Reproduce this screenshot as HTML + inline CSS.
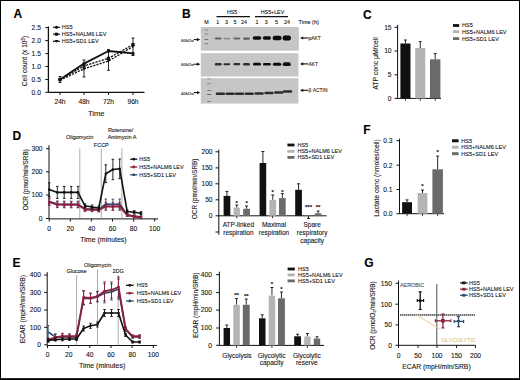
<!DOCTYPE html>
<html><head><meta charset="utf-8"><style>
html,body{margin:0;padding:0;background:#fff;width:520px;height:380px;overflow:hidden;}
svg{display:block;font-family:"Liberation Sans",sans-serif;}
text{stroke:#333;stroke-width:0.1px;paint-order:stroke;}
</style></head><body>
<svg width="520" height="380" viewBox="0 0 520 380">
<rect width="520" height="380" fill="#fff"/>
<text x="13.60" y="17.86" font-size="12.0" text-anchor="start" font-weight="bold" fill="#000" >A</text>
<text x="182.00" y="17.96" font-size="12.0" text-anchor="start" font-weight="bold" fill="#000" >B</text>
<text x="363.00" y="18.86" font-size="12.0" text-anchor="start" font-weight="bold" fill="#000" >C</text>
<text x="12.40" y="139.96" font-size="12.0" text-anchor="start" font-weight="bold" fill="#000" >D</text>
<text x="363.30" y="133.76" font-size="12.0" text-anchor="start" font-weight="bold" fill="#000" >F</text>
<text x="12.40" y="266.66" font-size="12.0" text-anchor="start" font-weight="bold" fill="#000" >E</text>
<text x="364.30" y="266.66" font-size="12.0" text-anchor="start" font-weight="bold" fill="#000" >G</text>
<line x1="48.40" y1="26.50" x2="48.40" y2="92.30" stroke="#111" stroke-width="1.3" />
<line x1="48.40" y1="92.30" x2="144.50" y2="92.30" stroke="#111" stroke-width="1.3" />
<line x1="45.30" y1="27.60" x2="48.40" y2="27.60" stroke="#111" stroke-width="1.0" />
<text x="40.90" y="29.98" font-size="6.7" text-anchor="end" font-weight="normal" fill="#111" >2.5</text>
<line x1="45.30" y1="40.60" x2="48.40" y2="40.60" stroke="#111" stroke-width="1.0" />
<text x="40.90" y="42.98" font-size="6.7" text-anchor="end" font-weight="normal" fill="#111" >2.0</text>
<line x1="45.30" y1="53.60" x2="48.40" y2="53.60" stroke="#111" stroke-width="1.0" />
<text x="40.90" y="55.98" font-size="6.7" text-anchor="end" font-weight="normal" fill="#111" >1.5</text>
<line x1="45.30" y1="66.50" x2="48.40" y2="66.50" stroke="#111" stroke-width="1.0" />
<text x="40.90" y="68.88" font-size="6.7" text-anchor="end" font-weight="normal" fill="#111" >1.0</text>
<line x1="45.30" y1="79.50" x2="48.40" y2="79.50" stroke="#111" stroke-width="1.0" />
<text x="40.90" y="81.88" font-size="6.7" text-anchor="end" font-weight="normal" fill="#111" >0.5</text>
<line x1="45.30" y1="92.30" x2="48.40" y2="92.30" stroke="#111" stroke-width="1.0" />
<text x="40.90" y="94.68" font-size="6.7" text-anchor="end" font-weight="normal" fill="#111" >0.0</text>
<line x1="60.00" y1="92.30" x2="60.00" y2="95.00" stroke="#111" stroke-width="1.0" />
<text x="60.00" y="103.98" font-size="6.7" text-anchor="middle" font-weight="normal" fill="#111" >24h</text>
<line x1="84.00" y1="92.30" x2="84.00" y2="95.00" stroke="#111" stroke-width="1.0" />
<text x="84.00" y="103.98" font-size="6.7" text-anchor="middle" font-weight="normal" fill="#111" >48h</text>
<line x1="108.50" y1="92.30" x2="108.50" y2="95.00" stroke="#111" stroke-width="1.0" />
<text x="108.50" y="103.98" font-size="6.7" text-anchor="middle" font-weight="normal" fill="#111" >72h</text>
<line x1="133.00" y1="92.30" x2="133.00" y2="95.00" stroke="#111" stroke-width="1.0" />
<text x="133.00" y="103.98" font-size="6.7" text-anchor="middle" font-weight="normal" fill="#111" >96h</text>
<text x="96.20" y="115.70" font-size="7.6" text-anchor="middle" font-weight="normal" fill="#111" >Time</text>
<text x="27.34" y="61.00" font-size="6.6" text-anchor="middle" font-weight="normal" fill="#111" transform="rotate(-90 27.34 61.00)" >Cell count (x 10<tspan font-size="4.5" dy="-2.5">5</tspan><tspan dy="2.5">)</tspan></text>
<line x1="84.00" y1="60.00" x2="84.00" y2="77.00" stroke="#111" stroke-width="0.9" />
<line x1="82.50" y1="60.00" x2="85.50" y2="60.00" stroke="#111" stroke-width="0.9" />
<line x1="82.50" y1="77.00" x2="85.50" y2="77.00" stroke="#111" stroke-width="0.9" />
<line x1="108.50" y1="49.60" x2="108.50" y2="70.30" stroke="#111" stroke-width="0.9" />
<line x1="107.00" y1="49.60" x2="110.00" y2="49.60" stroke="#111" stroke-width="0.9" />
<line x1="107.00" y1="70.30" x2="110.00" y2="70.30" stroke="#111" stroke-width="0.9" />
<line x1="133.00" y1="38.00" x2="133.00" y2="55.50" stroke="#111" stroke-width="0.9" />
<line x1="131.50" y1="38.00" x2="134.50" y2="38.00" stroke="#111" stroke-width="0.9" />
<line x1="131.50" y1="55.50" x2="134.50" y2="55.50" stroke="#111" stroke-width="0.9" />
<line x1="60.00" y1="76.50" x2="60.00" y2="82.50" stroke="#111" stroke-width="0.9" />
<line x1="58.50" y1="76.50" x2="61.50" y2="76.50" stroke="#111" stroke-width="0.9" />
<line x1="58.50" y1="82.50" x2="61.50" y2="82.50" stroke="#111" stroke-width="0.9" />
<polyline points="60.00,79.40 84.00,63.60 108.50,51.00 133.00,53.40" fill="none" stroke="#111" stroke-width="1.8" stroke-linejoin="round" />
<polyline points="60.00,79.60 84.00,66.00 108.50,58.30 133.00,44.60" fill="none" stroke="#111" stroke-width="1.3" stroke-linejoin="round" stroke-dasharray="2.2 1.1"/>
<polyline points="60.00,80.20 84.00,68.80 108.50,61.00 133.00,46.50" fill="none" stroke="#111" stroke-width="1.3" stroke-linejoin="round" stroke-dasharray="2.2 1.1"/>
<circle cx="60" cy="79.4" r="1.6" fill="#111"/>
<circle cx="84" cy="63.6" r="1.6" fill="#111"/>
<circle cx="108.5" cy="51.0" r="1.6" fill="#111"/>
<circle cx="133" cy="53.4" r="1.6" fill="#111"/>
<rect x="58.40" y="78.00" width="3.20" height="3.20" fill="#111" />
<rect x="82.40" y="64.40" width="3.20" height="3.20" fill="#111" />
<rect x="106.90" y="56.70" width="3.20" height="3.20" fill="#111" />
<rect x="131.40" y="43.00" width="3.20" height="3.20" fill="#111" />
<polygon points="58.2,78.8 61.8,78.8 60,81.8" fill="#111"/>
<polygon points="82.2,67.39999999999999 85.8,67.39999999999999 84,70.39999999999999" fill="#111"/>
<polygon points="106.7,59.6 110.3,59.6 108.5,62.6" fill="#111"/>
<polygon points="131.2,45.1 134.8,45.1 133,48.1" fill="#111"/>
<line x1="53.00" y1="27.30" x2="60.00" y2="27.30" stroke="#111" stroke-width="1.2" />
<circle cx="56.5" cy="27.3" r="1.5" fill="#111"/>
<text x="61.80" y="29.27" font-size="5.55" text-anchor="start" font-weight="normal" fill="#111" >HS5</text>
<line x1="53.00" y1="34.20" x2="60.00" y2="34.20" stroke="#111" stroke-width="1.2" />
<rect x="55.00" y="32.70" width="3.00" height="3.00" fill="#111" />
<text x="61.80" y="36.17" font-size="5.55" text-anchor="start" font-weight="normal" fill="#111" >HS5+NALM6 LEV</text>
<line x1="53.00" y1="41.30" x2="60.00" y2="41.30" stroke="#111" stroke-width="1.2" />
<polygon points="54.7,40.0 58.3,40.0 56.5,42.8" fill="#111"/>
<text x="61.80" y="43.27" font-size="5.55" text-anchor="start" font-weight="normal" fill="#111" >HS5+SD1 LEV</text>
<text x="232.10" y="13.78" font-size="5.3" text-anchor="middle" font-weight="normal" fill="#111" >HS5</text>
<line x1="216.50" y1="16.60" x2="250.00" y2="16.60" stroke="#111" stroke-width="1.3" />
<text x="272.50" y="14.38" font-size="5.3" text-anchor="middle" font-weight="normal" fill="#111" >HS5+LEV</text>
<line x1="255.00" y1="16.60" x2="288.00" y2="16.60" stroke="#111" stroke-width="1.3" />
<text x="206.50" y="24.08" font-size="5.3" text-anchor="middle" font-weight="normal" fill="#111" >M</text>
<text x="217.80" y="24.08" font-size="5.3" text-anchor="middle" font-weight="normal" fill="#111" >1</text>
<text x="226.40" y="24.08" font-size="5.3" text-anchor="middle" font-weight="normal" fill="#111" >3</text>
<text x="234.90" y="24.08" font-size="5.3" text-anchor="middle" font-weight="normal" fill="#111" >5</text>
<text x="244.00" y="24.08" font-size="5.3" text-anchor="middle" font-weight="normal" fill="#111" >24</text>
<text x="256.90" y="24.08" font-size="5.3" text-anchor="middle" font-weight="normal" fill="#111" >1</text>
<text x="266.20" y="24.08" font-size="5.3" text-anchor="middle" font-weight="normal" fill="#111" >3</text>
<text x="276.50" y="24.08" font-size="5.3" text-anchor="middle" font-weight="normal" fill="#111" >5</text>
<text x="286.90" y="24.08" font-size="5.3" text-anchor="middle" font-weight="normal" fill="#111" >24</text>
<text x="298.50" y="24.15" font-size="5.5" text-anchor="start" font-weight="normal" fill="#111" >Time (h)</text>
<rect x="200.80" y="27.00" width="98.00" height="23.70" fill="#c6c6c6" />
<rect x="200.80" y="53.20" width="97.60" height="23.30" fill="#c6c6c6" />
<rect x="200.80" y="78.20" width="97.60" height="25.40" fill="#c6c6c6" />
<defs><filter id="bl" x="-20%" y="-50%" width="140%" height="200%"><feGaussianBlur stdDeviation="0.45"/></filter></defs>
<g filter="url(#bl)">
<rect x="204.30" y="29.55" width="4.00" height="0.90" rx="0.45" fill="#888"/>
<rect x="204.30" y="33.55" width="4.00" height="0.90" rx="0.45" fill="#888"/>
<rect x="204.30" y="39.15" width="4.00" height="0.90" rx="0.45" fill="#555"/>
<rect x="204.30" y="43.35" width="4.00" height="0.90" rx="0.45" fill="#777"/>
<rect x="207.00" y="78.45" width="4.40" height="0.90" rx="0.45" fill="#888"/>
<rect x="207.00" y="83.25" width="4.40" height="0.90" rx="0.45" fill="#888"/>
<rect x="207.00" y="89.95" width="4.40" height="0.90" rx="0.45" fill="#666"/>
<rect x="207.00" y="93.95" width="4.40" height="0.90" rx="0.45" fill="#444"/>
<rect x="207.00" y="101.15" width="4.40" height="0.90" rx="0.45" fill="#666"/>
<rect x="214.80" y="37.60" width="6.80" height="2.00" rx="1.00" fill="#606060"/>
<rect x="223.40" y="37.80" width="6.80" height="1.60" rx="0.80" fill="#8c8c8c"/>
<rect x="233.40" y="37.60" width="6.80" height="2.00" rx="1.00" fill="#6a6a6a"/>
<rect x="243.10" y="37.50" width="6.80" height="2.20" rx="1.10" fill="#5c5c5c"/>
<rect x="252.70" y="36.20" width="8.60" height="3.60" rx="1.80" fill="#0a0a0a"/>
<rect x="262.80" y="36.20" width="8.20" height="3.60" rx="1.80" fill="#0a0a0a"/>
<rect x="272.70" y="35.85" width="8.80" height="4.30" rx="2.00" fill="#0a0a0a"/>
<rect x="282.70" y="35.60" width="8.20" height="4.80" rx="2.00" fill="#0a0a0a"/>
<rect x="214.80" y="63.00" width="6.80" height="2.40" rx="1.20" fill="#2e2e2e"/>
<rect x="223.40" y="63.20" width="6.80" height="2.00" rx="1.00" fill="#2e2e2e"/>
<rect x="233.40" y="63.05" width="6.80" height="2.30" rx="1.15" fill="#2e2e2e"/>
<rect x="243.10" y="63.00" width="6.80" height="2.40" rx="1.20" fill="#2e2e2e"/>
<rect x="253.00" y="62.80" width="8.00" height="2.80" rx="1.40" fill="#111"/>
<rect x="263.00" y="62.90" width="7.80" height="2.60" rx="1.30" fill="#111"/>
<rect x="272.90" y="62.70" width="8.40" height="3.00" rx="1.50" fill="#111"/>
<rect x="282.80" y="62.30" width="8.00" height="3.80" rx="1.90" fill="#111"/>
<rect x="215.70" y="92.45" width="9.40" height="2.50" rx="1.25" fill="#2c2c2c"/>
<rect x="225.40" y="92.45" width="9.40" height="2.50" rx="1.25" fill="#2c2c2c"/>
<rect x="234.80" y="92.45" width="9.40" height="2.50" rx="1.25" fill="#2c2c2c"/>
<rect x="244.50" y="92.45" width="9.40" height="2.50" rx="1.25" fill="#2c2c2c"/>
<rect x="254.40" y="92.25" width="9.40" height="2.50" rx="1.25" fill="#2c2c2c"/>
<rect x="264.30" y="91.85" width="9.40" height="2.50" rx="1.25" fill="#2c2c2c"/>
<rect x="274.00" y="91.15" width="9.40" height="2.50" rx="1.25" fill="#2c2c2c"/>
<rect x="282.90" y="90.35" width="9.40" height="2.50" rx="1.25" fill="#2c2c2c"/>
</g>
<text x="181.00" y="41.56" font-size="4.4" text-anchor="start" font-weight="normal" fill="#222" >60kDa</text>
<line x1="193.80" y1="39.60" x2="198.60" y2="39.60" stroke="#111" stroke-width="1.1" />
<polygon points="200.2,39.6 197.0,38.0 197.0,41.2" fill="#111"/>
<text x="181.00" y="66.46" font-size="4.4" text-anchor="start" font-weight="normal" fill="#222" >60kDa</text>
<line x1="193.80" y1="64.20" x2="198.60" y2="64.20" stroke="#111" stroke-width="1.1" />
<polygon points="200.2,64.2 197.0,62.6 197.0,65.8" fill="#111"/>
<text x="181.00" y="94.56" font-size="4.4" text-anchor="start" font-weight="normal" fill="#222" >40kDa</text>
<line x1="193.80" y1="92.60" x2="198.60" y2="92.60" stroke="#111" stroke-width="1.1" />
<polygon points="200.2,92.6 197.0,91.0 197.0,94.19999999999999" fill="#111"/>
<line x1="302.00" y1="38.00" x2="308.30" y2="38.00" stroke="#111" stroke-width="1.1" />
<polygon points="300.0,38.0 303.2,36.4 303.2,39.6" fill="#111"/>
<text x="308.60" y="39.74" font-size="4.9" text-anchor="start" font-weight="normal" fill="#222" >pAKT</text>
<line x1="302.00" y1="63.90" x2="308.30" y2="63.90" stroke="#111" stroke-width="1.1" />
<polygon points="300.0,63.9 303.2,62.3 303.2,65.5" fill="#111"/>
<text x="308.60" y="65.64" font-size="4.9" text-anchor="start" font-weight="normal" fill="#222" >AKT</text>
<line x1="302.00" y1="90.30" x2="308.30" y2="90.30" stroke="#111" stroke-width="1.1" />
<polygon points="300.0,90.3 303.2,88.7 303.2,91.89999999999999" fill="#111"/>
<text x="308.60" y="92.04" font-size="4.9" text-anchor="start" font-weight="normal" fill="#222" >β ACTIN</text>
<line x1="397.60" y1="25.00" x2="397.60" y2="98.40" stroke="#111" stroke-width="1.0" />
<line x1="397.60" y1="98.40" x2="441.00" y2="98.40" stroke="#111" stroke-width="1.0" />
<line x1="394.60" y1="27.40" x2="397.60" y2="27.40" stroke="#111" stroke-width="1.0" />
<text x="391.60" y="29.78" font-size="6.7" text-anchor="end" font-weight="normal" fill="#111" >15</text>
<line x1="394.60" y1="51.00" x2="397.60" y2="51.00" stroke="#111" stroke-width="1.0" />
<text x="391.60" y="53.38" font-size="6.7" text-anchor="end" font-weight="normal" fill="#111" >10</text>
<line x1="394.60" y1="74.80" x2="397.60" y2="74.80" stroke="#111" stroke-width="1.0" />
<text x="391.60" y="77.18" font-size="6.7" text-anchor="end" font-weight="normal" fill="#111" >5</text>
<line x1="394.60" y1="98.40" x2="397.60" y2="98.40" stroke="#111" stroke-width="1.0" />
<text x="391.60" y="100.78" font-size="6.7" text-anchor="end" font-weight="normal" fill="#111" >0</text>
<line x1="405.45" y1="40.00" x2="405.45" y2="43.50" stroke="#111" stroke-width="0.9" />
<line x1="403.95" y1="40.00" x2="406.95" y2="40.00" stroke="#111" stroke-width="0.9" />
<rect x="400.40" y="43.50" width="10.10" height="54.90" fill="#111" />
<line x1="405.45" y1="98.40" x2="405.45" y2="100.80" stroke="#111" stroke-width="0.8" />
<line x1="420.25" y1="41.60" x2="420.25" y2="48.00" stroke="#111" stroke-width="0.9" />
<line x1="418.75" y1="41.60" x2="421.75" y2="41.60" stroke="#111" stroke-width="0.9" />
<rect x="415.20" y="48.00" width="10.10" height="50.40" fill="#b4b4b4" />
<line x1="420.25" y1="98.40" x2="420.25" y2="100.80" stroke="#111" stroke-width="0.8" />
<line x1="435.20" y1="53.60" x2="435.20" y2="59.30" stroke="#111" stroke-width="0.9" />
<line x1="433.70" y1="53.60" x2="436.70" y2="53.60" stroke="#111" stroke-width="0.9" />
<rect x="430.00" y="59.30" width="10.40" height="39.10" fill="#6a6a6a" />
<line x1="435.20" y1="98.40" x2="435.20" y2="100.80" stroke="#111" stroke-width="0.8" />
<text x="378.11" y="63.50" font-size="6.8" text-anchor="middle" font-weight="normal" fill="#111" transform="rotate(-90 378.11 63.50)" >ATP conc μM/cell</text>
<rect x="453.00" y="24.10" width="6.20" height="2.80" fill="#111" />
<text x="462.00" y="27.47" font-size="5.55" text-anchor="start" font-weight="normal" fill="#111" >HS5</text>
<rect x="453.00" y="30.30" width="6.20" height="2.80" fill="#b4b4b4" />
<text x="462.00" y="33.67" font-size="5.55" text-anchor="start" font-weight="normal" fill="#111" >HS5+NALM6 LEV</text>
<rect x="453.00" y="37.20" width="6.20" height="2.80" fill="#6a6a6a" />
<text x="462.00" y="40.57" font-size="5.55" text-anchor="start" font-weight="normal" fill="#111" >HS5+SD1 LEV</text>
<line x1="49.00" y1="145.20" x2="49.00" y2="218.90" stroke="#111" stroke-width="1.0" />
<line x1="49.00" y1="218.90" x2="158.00" y2="218.90" stroke="#111" stroke-width="1.0" />
<line x1="46.00" y1="148.70" x2="49.00" y2="148.70" stroke="#111" stroke-width="1.0" />
<text x="42.60" y="151.08" font-size="6.7" text-anchor="end" font-weight="normal" fill="#111" >300</text>
<line x1="46.00" y1="171.80" x2="49.00" y2="171.80" stroke="#111" stroke-width="1.0" />
<text x="42.60" y="174.18" font-size="6.7" text-anchor="end" font-weight="normal" fill="#111" >200</text>
<line x1="46.00" y1="195.00" x2="49.00" y2="195.00" stroke="#111" stroke-width="1.0" />
<text x="42.60" y="197.38" font-size="6.7" text-anchor="end" font-weight="normal" fill="#111" >100</text>
<line x1="46.00" y1="218.50" x2="49.00" y2="218.50" stroke="#111" stroke-width="1.0" />
<text x="42.60" y="220.88" font-size="6.7" text-anchor="end" font-weight="normal" fill="#111" >0</text>
<line x1="49.20" y1="218.90" x2="49.20" y2="221.50" stroke="#111" stroke-width="1.0" />
<text x="49.20" y="231.18" font-size="6.7" text-anchor="middle" font-weight="normal" fill="#111" >0</text>
<line x1="70.30" y1="218.90" x2="70.30" y2="221.50" stroke="#111" stroke-width="1.0" />
<text x="70.30" y="231.18" font-size="6.7" text-anchor="middle" font-weight="normal" fill="#111" >20</text>
<line x1="91.40" y1="218.90" x2="91.40" y2="221.50" stroke="#111" stroke-width="1.0" />
<text x="91.40" y="231.18" font-size="6.7" text-anchor="middle" font-weight="normal" fill="#111" >40</text>
<line x1="112.50" y1="218.90" x2="112.50" y2="221.50" stroke="#111" stroke-width="1.0" />
<text x="112.50" y="231.18" font-size="6.7" text-anchor="middle" font-weight="normal" fill="#111" >60</text>
<line x1="133.60" y1="218.90" x2="133.60" y2="221.50" stroke="#111" stroke-width="1.0" />
<text x="133.60" y="231.18" font-size="6.7" text-anchor="middle" font-weight="normal" fill="#111" >80</text>
<line x1="154.70" y1="218.90" x2="154.70" y2="221.50" stroke="#111" stroke-width="1.0" />
<text x="154.70" y="231.18" font-size="6.7" text-anchor="middle" font-weight="normal" fill="#111" >100</text>
<text x="103.50" y="241.69" font-size="7.0" text-anchor="middle" font-weight="normal" fill="#111" >Time (minutes)</text>
<text x="27.57" y="179.70" font-size="6.4" text-anchor="middle" font-weight="normal" fill="#111" transform="rotate(-90 27.57 179.70)" >OCR (pmol/min/SRB)</text>
<line x1="79.80" y1="148.50" x2="79.80" y2="218.90" stroke="#888" stroke-width="0.7" />
<line x1="101.30" y1="148.50" x2="101.30" y2="218.90" stroke="#888" stroke-width="0.7" />
<line x1="121.90" y1="148.50" x2="121.90" y2="218.90" stroke="#888" stroke-width="0.7" />
<text x="79.60" y="138.95" font-size="5.5" text-anchor="middle" font-weight="normal" fill="#111" >Oligomycin</text>
<text x="101.30" y="147.05" font-size="5.5" text-anchor="middle" font-weight="normal" fill="#111" >FCCP</text>
<text x="120.60" y="132.15" font-size="5.5" text-anchor="middle" font-weight="normal" fill="#111" >Rotenone/</text>
<text x="122.00" y="138.85" font-size="5.5" text-anchor="middle" font-weight="normal" fill="#111" >Antimycin A</text>
<line x1="49.20" y1="197.90" x2="49.20" y2="204.90" stroke="#2d4a70" stroke-width="0.9" />
<line x1="47.90" y1="197.90" x2="50.50" y2="197.90" stroke="#2d4a70" stroke-width="0.9" />
<line x1="47.90" y1="204.90" x2="50.50" y2="204.90" stroke="#2d4a70" stroke-width="0.9" />
<line x1="57.30" y1="201.00" x2="57.30" y2="207.00" stroke="#2d4a70" stroke-width="0.9" />
<line x1="56.00" y1="201.00" x2="58.60" y2="201.00" stroke="#2d4a70" stroke-width="0.9" />
<line x1="56.00" y1="207.00" x2="58.60" y2="207.00" stroke="#2d4a70" stroke-width="0.9" />
<line x1="64.20" y1="201.20" x2="64.20" y2="207.20" stroke="#2d4a70" stroke-width="0.9" />
<line x1="62.90" y1="201.20" x2="65.50" y2="201.20" stroke="#2d4a70" stroke-width="0.9" />
<line x1="62.90" y1="207.20" x2="65.50" y2="207.20" stroke="#2d4a70" stroke-width="0.9" />
<line x1="71.20" y1="201.20" x2="71.20" y2="207.20" stroke="#2d4a70" stroke-width="0.9" />
<line x1="69.90" y1="201.20" x2="72.50" y2="201.20" stroke="#2d4a70" stroke-width="0.9" />
<line x1="69.90" y1="207.20" x2="72.50" y2="207.20" stroke="#2d4a70" stroke-width="0.9" />
<line x1="78.00" y1="201.20" x2="78.00" y2="207.20" stroke="#2d4a70" stroke-width="0.9" />
<line x1="76.70" y1="201.20" x2="79.30" y2="201.20" stroke="#2d4a70" stroke-width="0.9" />
<line x1="76.70" y1="207.20" x2="79.30" y2="207.20" stroke="#2d4a70" stroke-width="0.9" />
<line x1="85.00" y1="206.90" x2="85.00" y2="210.90" stroke="#2d4a70" stroke-width="0.9" />
<line x1="83.70" y1="206.90" x2="86.30" y2="206.90" stroke="#2d4a70" stroke-width="0.9" />
<line x1="83.70" y1="210.90" x2="86.30" y2="210.90" stroke="#2d4a70" stroke-width="0.9" />
<line x1="92.00" y1="207.10" x2="92.00" y2="211.10" stroke="#2d4a70" stroke-width="0.9" />
<line x1="90.70" y1="207.10" x2="93.30" y2="207.10" stroke="#2d4a70" stroke-width="0.9" />
<line x1="90.70" y1="211.10" x2="93.30" y2="211.10" stroke="#2d4a70" stroke-width="0.9" />
<line x1="98.80" y1="207.40" x2="98.80" y2="211.40" stroke="#2d4a70" stroke-width="0.9" />
<line x1="97.50" y1="207.40" x2="100.10" y2="207.40" stroke="#2d4a70" stroke-width="0.9" />
<line x1="97.50" y1="211.40" x2="100.10" y2="211.40" stroke="#2d4a70" stroke-width="0.9" />
<line x1="105.80" y1="199.00" x2="105.80" y2="209.00" stroke="#2d4a70" stroke-width="0.9" />
<line x1="104.50" y1="199.00" x2="107.10" y2="199.00" stroke="#2d4a70" stroke-width="0.9" />
<line x1="104.50" y1="209.00" x2="107.10" y2="209.00" stroke="#2d4a70" stroke-width="0.9" />
<line x1="112.90" y1="199.20" x2="112.90" y2="209.20" stroke="#2d4a70" stroke-width="0.9" />
<line x1="111.60" y1="199.20" x2="114.20" y2="199.20" stroke="#2d4a70" stroke-width="0.9" />
<line x1="111.60" y1="209.20" x2="114.20" y2="209.20" stroke="#2d4a70" stroke-width="0.9" />
<line x1="119.70" y1="199.00" x2="119.70" y2="209.00" stroke="#2d4a70" stroke-width="0.9" />
<line x1="118.40" y1="199.00" x2="121.00" y2="199.00" stroke="#2d4a70" stroke-width="0.9" />
<line x1="118.40" y1="209.00" x2="121.00" y2="209.00" stroke="#2d4a70" stroke-width="0.9" />
<line x1="127.20" y1="213.60" x2="127.20" y2="216.00" stroke="#2d4a70" stroke-width="0.9" />
<line x1="125.90" y1="213.60" x2="128.50" y2="213.60" stroke="#2d4a70" stroke-width="0.9" />
<line x1="125.90" y1="216.00" x2="128.50" y2="216.00" stroke="#2d4a70" stroke-width="0.9" />
<line x1="134.20" y1="214.90" x2="134.20" y2="217.30" stroke="#2d4a70" stroke-width="0.9" />
<line x1="132.90" y1="214.90" x2="135.50" y2="214.90" stroke="#2d4a70" stroke-width="0.9" />
<line x1="132.90" y1="217.30" x2="135.50" y2="217.30" stroke="#2d4a70" stroke-width="0.9" />
<line x1="141.00" y1="215.80" x2="141.00" y2="218.20" stroke="#2d4a70" stroke-width="0.9" />
<line x1="139.70" y1="215.80" x2="142.30" y2="215.80" stroke="#2d4a70" stroke-width="0.9" />
<line x1="139.70" y1="218.20" x2="142.30" y2="218.20" stroke="#2d4a70" stroke-width="0.9" />
<polyline points="49.20,201.40 57.30,204.00 64.20,204.20 71.20,204.20 78.00,204.20 85.00,208.90 92.00,209.10 98.80,209.40 105.80,204.00 112.90,204.20 119.70,204.00 127.20,214.80 134.20,216.10 141.00,217.00" fill="none" stroke="#2d4a70" stroke-width="1.6" stroke-linejoin="round" />
<line x1="49.20" y1="198.50" x2="49.20" y2="205.50" stroke="#8c1f40" stroke-width="0.9" />
<line x1="47.90" y1="198.50" x2="50.50" y2="198.50" stroke="#8c1f40" stroke-width="0.9" />
<line x1="47.90" y1="205.50" x2="50.50" y2="205.50" stroke="#8c1f40" stroke-width="0.9" />
<line x1="57.30" y1="201.60" x2="57.30" y2="207.60" stroke="#8c1f40" stroke-width="0.9" />
<line x1="56.00" y1="201.60" x2="58.60" y2="201.60" stroke="#8c1f40" stroke-width="0.9" />
<line x1="56.00" y1="207.60" x2="58.60" y2="207.60" stroke="#8c1f40" stroke-width="0.9" />
<line x1="64.20" y1="201.80" x2="64.20" y2="207.80" stroke="#8c1f40" stroke-width="0.9" />
<line x1="62.90" y1="201.80" x2="65.50" y2="201.80" stroke="#8c1f40" stroke-width="0.9" />
<line x1="62.90" y1="207.80" x2="65.50" y2="207.80" stroke="#8c1f40" stroke-width="0.9" />
<line x1="71.20" y1="201.80" x2="71.20" y2="207.80" stroke="#8c1f40" stroke-width="0.9" />
<line x1="69.90" y1="201.80" x2="72.50" y2="201.80" stroke="#8c1f40" stroke-width="0.9" />
<line x1="69.90" y1="207.80" x2="72.50" y2="207.80" stroke="#8c1f40" stroke-width="0.9" />
<line x1="78.00" y1="201.80" x2="78.00" y2="207.80" stroke="#8c1f40" stroke-width="0.9" />
<line x1="76.70" y1="201.80" x2="79.30" y2="201.80" stroke="#8c1f40" stroke-width="0.9" />
<line x1="76.70" y1="207.80" x2="79.30" y2="207.80" stroke="#8c1f40" stroke-width="0.9" />
<line x1="85.00" y1="207.50" x2="85.00" y2="211.50" stroke="#8c1f40" stroke-width="0.9" />
<line x1="83.70" y1="207.50" x2="86.30" y2="207.50" stroke="#8c1f40" stroke-width="0.9" />
<line x1="83.70" y1="211.50" x2="86.30" y2="211.50" stroke="#8c1f40" stroke-width="0.9" />
<line x1="92.00" y1="207.70" x2="92.00" y2="211.70" stroke="#8c1f40" stroke-width="0.9" />
<line x1="90.70" y1="207.70" x2="93.30" y2="207.70" stroke="#8c1f40" stroke-width="0.9" />
<line x1="90.70" y1="211.70" x2="93.30" y2="211.70" stroke="#8c1f40" stroke-width="0.9" />
<line x1="98.80" y1="208.00" x2="98.80" y2="212.00" stroke="#8c1f40" stroke-width="0.9" />
<line x1="97.50" y1="208.00" x2="100.10" y2="208.00" stroke="#8c1f40" stroke-width="0.9" />
<line x1="97.50" y1="212.00" x2="100.10" y2="212.00" stroke="#8c1f40" stroke-width="0.9" />
<line x1="105.80" y1="202.30" x2="105.80" y2="210.30" stroke="#8c1f40" stroke-width="0.9" />
<line x1="104.50" y1="202.30" x2="107.10" y2="202.30" stroke="#8c1f40" stroke-width="0.9" />
<line x1="104.50" y1="210.30" x2="107.10" y2="210.30" stroke="#8c1f40" stroke-width="0.9" />
<line x1="112.90" y1="202.50" x2="112.90" y2="210.50" stroke="#8c1f40" stroke-width="0.9" />
<line x1="111.60" y1="202.50" x2="114.20" y2="202.50" stroke="#8c1f40" stroke-width="0.9" />
<line x1="111.60" y1="210.50" x2="114.20" y2="210.50" stroke="#8c1f40" stroke-width="0.9" />
<line x1="119.70" y1="202.30" x2="119.70" y2="210.30" stroke="#8c1f40" stroke-width="0.9" />
<line x1="118.40" y1="202.30" x2="121.00" y2="202.30" stroke="#8c1f40" stroke-width="0.9" />
<line x1="118.40" y1="210.30" x2="121.00" y2="210.30" stroke="#8c1f40" stroke-width="0.9" />
<line x1="127.20" y1="214.00" x2="127.20" y2="216.40" stroke="#8c1f40" stroke-width="0.9" />
<line x1="125.90" y1="214.00" x2="128.50" y2="214.00" stroke="#8c1f40" stroke-width="0.9" />
<line x1="125.90" y1="216.40" x2="128.50" y2="216.40" stroke="#8c1f40" stroke-width="0.9" />
<line x1="134.20" y1="215.30" x2="134.20" y2="217.70" stroke="#8c1f40" stroke-width="0.9" />
<line x1="132.90" y1="215.30" x2="135.50" y2="215.30" stroke="#8c1f40" stroke-width="0.9" />
<line x1="132.90" y1="217.70" x2="135.50" y2="217.70" stroke="#8c1f40" stroke-width="0.9" />
<line x1="141.00" y1="216.20" x2="141.00" y2="218.60" stroke="#8c1f40" stroke-width="0.9" />
<line x1="139.70" y1="216.20" x2="142.30" y2="216.20" stroke="#8c1f40" stroke-width="0.9" />
<line x1="139.70" y1="218.60" x2="142.30" y2="218.60" stroke="#8c1f40" stroke-width="0.9" />
<polyline points="49.20,202.00 57.30,204.60 64.20,204.80 71.20,204.80 78.00,204.80 85.00,209.50 92.00,209.70 98.80,210.00 105.80,206.30 112.90,206.50 119.70,206.30 127.20,215.20 134.20,216.50 141.00,217.40" fill="none" stroke="#8c1f40" stroke-width="1.9" stroke-linejoin="round" />
<rect x="48.00" y="200.80" width="2.40" height="2.40" fill="#8c1f40" />
<rect x="56.10" y="203.40" width="2.40" height="2.40" fill="#8c1f40" />
<rect x="63.00" y="203.60" width="2.40" height="2.40" fill="#8c1f40" />
<rect x="70.00" y="203.60" width="2.40" height="2.40" fill="#8c1f40" />
<rect x="76.80" y="203.60" width="2.40" height="2.40" fill="#8c1f40" />
<rect x="83.80" y="208.30" width="2.40" height="2.40" fill="#8c1f40" />
<rect x="90.80" y="208.50" width="2.40" height="2.40" fill="#8c1f40" />
<rect x="97.60" y="208.80" width="2.40" height="2.40" fill="#8c1f40" />
<rect x="104.60" y="205.10" width="2.40" height="2.40" fill="#8c1f40" />
<rect x="111.70" y="205.30" width="2.40" height="2.40" fill="#8c1f40" />
<rect x="118.50" y="205.10" width="2.40" height="2.40" fill="#8c1f40" />
<rect x="126.00" y="214.00" width="2.40" height="2.40" fill="#8c1f40" />
<rect x="133.00" y="215.30" width="2.40" height="2.40" fill="#8c1f40" />
<rect x="139.80" y="216.20" width="2.40" height="2.40" fill="#8c1f40" />
<line x1="49.20" y1="182.80" x2="49.20" y2="196.40" stroke="#111" stroke-width="0.9" />
<line x1="47.90" y1="182.80" x2="50.50" y2="182.80" stroke="#111" stroke-width="0.9" />
<line x1="47.90" y1="196.40" x2="50.50" y2="196.40" stroke="#111" stroke-width="0.9" />
<line x1="57.30" y1="186.40" x2="57.30" y2="198.40" stroke="#111" stroke-width="0.9" />
<line x1="56.00" y1="186.40" x2="58.60" y2="186.40" stroke="#111" stroke-width="0.9" />
<line x1="56.00" y1="198.40" x2="58.60" y2="198.40" stroke="#111" stroke-width="0.9" />
<line x1="64.20" y1="186.40" x2="64.20" y2="198.40" stroke="#111" stroke-width="0.9" />
<line x1="62.90" y1="186.40" x2="65.50" y2="186.40" stroke="#111" stroke-width="0.9" />
<line x1="62.90" y1="198.40" x2="65.50" y2="198.40" stroke="#111" stroke-width="0.9" />
<line x1="71.20" y1="186.40" x2="71.20" y2="198.40" stroke="#111" stroke-width="0.9" />
<line x1="69.90" y1="186.40" x2="72.50" y2="186.40" stroke="#111" stroke-width="0.9" />
<line x1="69.90" y1="198.40" x2="72.50" y2="198.40" stroke="#111" stroke-width="0.9" />
<line x1="78.00" y1="186.40" x2="78.00" y2="198.40" stroke="#111" stroke-width="0.9" />
<line x1="76.70" y1="186.40" x2="79.30" y2="186.40" stroke="#111" stroke-width="0.9" />
<line x1="76.70" y1="198.40" x2="79.30" y2="198.40" stroke="#111" stroke-width="0.9" />
<line x1="85.00" y1="203.80" x2="85.00" y2="207.80" stroke="#111" stroke-width="0.9" />
<line x1="83.70" y1="203.80" x2="86.30" y2="203.80" stroke="#111" stroke-width="0.9" />
<line x1="83.70" y1="207.80" x2="86.30" y2="207.80" stroke="#111" stroke-width="0.9" />
<line x1="92.00" y1="205.00" x2="92.00" y2="209.00" stroke="#111" stroke-width="0.9" />
<line x1="90.70" y1="205.00" x2="93.30" y2="205.00" stroke="#111" stroke-width="0.9" />
<line x1="90.70" y1="209.00" x2="93.30" y2="209.00" stroke="#111" stroke-width="0.9" />
<line x1="98.80" y1="206.00" x2="98.80" y2="210.00" stroke="#111" stroke-width="0.9" />
<line x1="97.50" y1="206.00" x2="100.10" y2="206.00" stroke="#111" stroke-width="0.9" />
<line x1="97.50" y1="210.00" x2="100.10" y2="210.00" stroke="#111" stroke-width="0.9" />
<line x1="105.80" y1="164.80" x2="105.80" y2="182.60" stroke="#111" stroke-width="0.9" />
<line x1="104.50" y1="164.80" x2="107.10" y2="164.80" stroke="#111" stroke-width="0.9" />
<line x1="104.50" y1="182.60" x2="107.10" y2="182.60" stroke="#111" stroke-width="0.9" />
<line x1="112.90" y1="159.30" x2="112.90" y2="179.70" stroke="#111" stroke-width="0.9" />
<line x1="111.60" y1="159.30" x2="114.20" y2="159.30" stroke="#111" stroke-width="0.9" />
<line x1="111.60" y1="179.70" x2="114.20" y2="179.70" stroke="#111" stroke-width="0.9" />
<line x1="119.70" y1="159.00" x2="119.70" y2="178.60" stroke="#111" stroke-width="0.9" />
<line x1="118.40" y1="159.00" x2="121.00" y2="159.00" stroke="#111" stroke-width="0.9" />
<line x1="118.40" y1="178.60" x2="121.00" y2="178.60" stroke="#111" stroke-width="0.9" />
<line x1="127.20" y1="210.00" x2="127.20" y2="213.00" stroke="#111" stroke-width="0.9" />
<line x1="125.90" y1="210.00" x2="128.50" y2="210.00" stroke="#111" stroke-width="0.9" />
<line x1="125.90" y1="213.00" x2="128.50" y2="213.00" stroke="#111" stroke-width="0.9" />
<line x1="134.20" y1="210.70" x2="134.20" y2="213.70" stroke="#111" stroke-width="0.9" />
<line x1="132.90" y1="210.70" x2="135.50" y2="210.70" stroke="#111" stroke-width="0.9" />
<line x1="132.90" y1="213.70" x2="135.50" y2="213.70" stroke="#111" stroke-width="0.9" />
<line x1="141.00" y1="211.70" x2="141.00" y2="214.70" stroke="#111" stroke-width="0.9" />
<line x1="139.70" y1="211.70" x2="142.30" y2="211.70" stroke="#111" stroke-width="0.9" />
<line x1="139.70" y1="214.70" x2="142.30" y2="214.70" stroke="#111" stroke-width="0.9" />
<polyline points="49.20,189.60 57.30,192.40 64.20,192.40 71.20,192.40 78.00,192.40 85.00,205.80 92.00,207.00 98.80,208.00 105.80,173.70 112.90,169.50 119.70,168.80 127.20,211.50 134.20,212.20 141.00,213.20" fill="none" stroke="#111" stroke-width="1.6" stroke-linejoin="round" />
<circle cx="49.2" cy="189.6" r="1.3" fill="#111"/>
<circle cx="57.3" cy="192.4" r="1.3" fill="#111"/>
<circle cx="64.2" cy="192.4" r="1.3" fill="#111"/>
<circle cx="71.2" cy="192.4" r="1.3" fill="#111"/>
<circle cx="78.0" cy="192.4" r="1.3" fill="#111"/>
<circle cx="85.0" cy="205.8" r="1.3" fill="#111"/>
<circle cx="92.0" cy="207.0" r="1.3" fill="#111"/>
<circle cx="98.8" cy="208.0" r="1.3" fill="#111"/>
<circle cx="105.8" cy="173.7" r="1.3" fill="#111"/>
<circle cx="112.9" cy="169.5" r="1.3" fill="#111"/>
<circle cx="119.7" cy="168.8" r="1.3" fill="#111"/>
<circle cx="127.2" cy="211.5" r="1.3" fill="#111"/>
<circle cx="134.2" cy="212.2" r="1.3" fill="#111"/>
<circle cx="141.0" cy="213.2" r="1.3" fill="#111"/>
<line x1="130.20" y1="159.20" x2="137.30" y2="159.20" stroke="#111" stroke-width="1.3" />
<circle cx="133.7" cy="159.2" r="1.4" fill="#111"/>
<text x="139.20" y="161.17" font-size="5.55" text-anchor="start" font-weight="normal" fill="#111" >HS5</text>
<line x1="130.20" y1="167.00" x2="137.30" y2="167.00" stroke="#8c1f40" stroke-width="1.3" />
<circle cx="133.7" cy="167.0" r="1.4" fill="#8c1f40"/>
<text x="139.20" y="168.97" font-size="5.55" text-anchor="start" font-weight="normal" fill="#111" >HS5+NALM6 LEV</text>
<line x1="130.20" y1="174.80" x2="137.30" y2="174.80" stroke="#2d4a70" stroke-width="1.3" />
<circle cx="133.7" cy="174.8" r="1.4" fill="#2d4a70"/>
<text x="139.20" y="176.77" font-size="5.55" text-anchor="start" font-weight="normal" fill="#111" >HS5+SD1 LEV</text>
<line x1="218.80" y1="149.60" x2="218.80" y2="234.70" stroke="#111" stroke-width="1.0" />
<line x1="218.80" y1="215.80" x2="326.50" y2="215.80" stroke="#111" stroke-width="1.0" />
<line x1="215.50" y1="151.80" x2="218.80" y2="151.80" stroke="#111" stroke-width="1.0" />
<text x="212.60" y="154.18" font-size="6.7" text-anchor="end" font-weight="normal" fill="#111" >200</text>
<line x1="215.50" y1="167.90" x2="218.80" y2="167.90" stroke="#111" stroke-width="1.0" />
<text x="212.60" y="170.28" font-size="6.7" text-anchor="end" font-weight="normal" fill="#111" >150</text>
<line x1="215.50" y1="183.80" x2="218.80" y2="183.80" stroke="#111" stroke-width="1.0" />
<text x="212.60" y="186.18" font-size="6.7" text-anchor="end" font-weight="normal" fill="#111" >100</text>
<line x1="215.50" y1="199.80" x2="218.80" y2="199.80" stroke="#111" stroke-width="1.0" />
<text x="212.60" y="202.18" font-size="6.7" text-anchor="end" font-weight="normal" fill="#111" >50</text>
<line x1="215.50" y1="215.80" x2="218.80" y2="215.80" stroke="#111" stroke-width="1.0" />
<text x="212.60" y="218.18" font-size="6.7" text-anchor="end" font-weight="normal" fill="#111" >0</text>
<line x1="215.50" y1="232.00" x2="218.80" y2="232.00" stroke="#111" stroke-width="1.0" />
<line x1="226.95" y1="191.40" x2="226.95" y2="195.90" stroke="#111" stroke-width="0.9" />
<line x1="225.45" y1="191.40" x2="228.45" y2="191.40" stroke="#111" stroke-width="0.9" />
<rect x="223.60" y="195.90" width="6.70" height="19.90" fill="#111" />
<line x1="236.75" y1="205.00" x2="236.75" y2="207.70" stroke="#111" stroke-width="0.9" />
<line x1="235.25" y1="205.00" x2="238.25" y2="205.00" stroke="#111" stroke-width="0.9" />
<rect x="233.60" y="207.70" width="6.30" height="8.10" fill="#b4b4b4" />
<text x="236.75" y="205.00" font-size="6.0" text-anchor="middle" font-weight="bold" fill="#111">*</text>
<line x1="246.60" y1="206.00" x2="246.60" y2="208.80" stroke="#111" stroke-width="0.9" />
<line x1="245.10" y1="206.00" x2="248.10" y2="206.00" stroke="#111" stroke-width="0.9" />
<rect x="243.20" y="208.80" width="6.80" height="7.00" fill="#6a6a6a" />
<text x="246.60" y="205.00" font-size="6.0" text-anchor="middle" font-weight="bold" fill="#111">*</text>
<line x1="262.90" y1="151.50" x2="262.90" y2="163.00" stroke="#111" stroke-width="0.9" />
<line x1="261.40" y1="151.50" x2="264.40" y2="151.50" stroke="#111" stroke-width="0.9" />
<rect x="259.60" y="163.00" width="6.60" height="52.80" fill="#111" />
<line x1="272.75" y1="195.00" x2="272.75" y2="199.90" stroke="#111" stroke-width="0.9" />
<line x1="271.25" y1="195.00" x2="274.25" y2="195.00" stroke="#111" stroke-width="0.9" />
<rect x="269.40" y="199.90" width="6.70" height="15.90" fill="#b4b4b4" />
<text x="272.75" y="193.50" font-size="6.0" text-anchor="middle" font-weight="bold" fill="#111">*</text>
<line x1="282.35" y1="193.60" x2="282.35" y2="198.10" stroke="#111" stroke-width="0.9" />
<line x1="280.85" y1="193.60" x2="283.85" y2="193.60" stroke="#111" stroke-width="0.9" />
<rect x="279.00" y="198.10" width="6.70" height="17.70" fill="#6a6a6a" />
<text x="282.35" y="193.50" font-size="6.0" text-anchor="middle" font-weight="bold" fill="#111">*</text>
<line x1="298.55" y1="183.80" x2="298.55" y2="189.80" stroke="#111" stroke-width="0.9" />
<line x1="297.05" y1="183.80" x2="300.05" y2="183.80" stroke="#111" stroke-width="0.9" />
<rect x="295.20" y="189.80" width="6.70" height="26.00" fill="#111" />
<line x1="308.50" y1="218.40" x2="308.50" y2="216.80" stroke="#111" stroke-width="0.9" />
<line x1="307.00" y1="218.40" x2="310.00" y2="218.40" stroke="#111" stroke-width="0.9" />
<rect x="305.20" y="215.80" width="6.60" height="1.00" fill="#b4b4b4" />
<text x="308.50" y="209.00" font-size="6.0" text-anchor="middle" font-weight="bold" fill="#111">***</text>
<line x1="318.10" y1="211.00" x2="318.10" y2="213.30" stroke="#111" stroke-width="0.9" />
<line x1="316.60" y1="211.00" x2="319.60" y2="211.00" stroke="#111" stroke-width="0.9" />
<rect x="314.80" y="213.30" width="6.60" height="2.50" fill="#6a6a6a" />
<text x="318.10" y="209.00" font-size="6.0" text-anchor="middle" font-weight="bold" fill="#111">**</text>
<line x1="236.80" y1="215.80" x2="236.80" y2="218.30" stroke="#111" stroke-width="0.8" />
<line x1="272.60" y1="215.80" x2="272.60" y2="218.30" stroke="#111" stroke-width="0.8" />
<line x1="308.50" y1="215.80" x2="308.50" y2="218.30" stroke="#111" stroke-width="0.8" />
<text x="197.24" y="188.80" font-size="6.3" text-anchor="middle" font-weight="normal" fill="#111" transform="rotate(-90 197.24 188.80)" >OCR (pmol/min/SRB)</text>
<text x="238.40" y="226.61" font-size="6.5" text-anchor="middle" font-weight="normal" fill="#111" >ATP-linked</text>
<text x="238.40" y="234.71" font-size="6.5" text-anchor="middle" font-weight="normal" fill="#111" >respiration</text>
<text x="274.00" y="226.61" font-size="6.5" text-anchor="middle" font-weight="normal" fill="#111" >Maximal</text>
<text x="274.00" y="234.91" font-size="6.5" text-anchor="middle" font-weight="normal" fill="#111" >respiration</text>
<text x="312.20" y="226.61" font-size="6.5" text-anchor="middle" font-weight="normal" fill="#111" >Spare</text>
<text x="312.20" y="234.71" font-size="6.5" text-anchor="middle" font-weight="normal" fill="#111" >respiratory</text>
<text x="312.20" y="242.81" font-size="6.5" text-anchor="middle" font-weight="normal" fill="#111" >capacity</text>
<rect x="287.40" y="143.60" width="7.10" height="2.80" fill="#111" />
<text x="297.40" y="146.97" font-size="5.55" text-anchor="start" font-weight="normal" fill="#111" >HS5</text>
<rect x="287.40" y="149.90" width="7.10" height="2.80" fill="#b4b4b4" />
<text x="297.40" y="153.27" font-size="5.55" text-anchor="start" font-weight="normal" fill="#111" >HS5+NALM6 LEV</text>
<rect x="287.40" y="156.00" width="7.10" height="2.80" fill="#6a6a6a" />
<text x="297.40" y="159.37" font-size="5.55" text-anchor="start" font-weight="normal" fill="#111" >HS5+SD1 LEV</text>
<line x1="47.20" y1="272.10" x2="47.20" y2="345.50" stroke="#111" stroke-width="1.0" />
<line x1="47.20" y1="345.50" x2="156.80" y2="345.50" stroke="#111" stroke-width="1.0" />
<line x1="44.20" y1="275.00" x2="47.20" y2="275.00" stroke="#111" stroke-width="1.0" />
<text x="40.90" y="277.38" font-size="6.7" text-anchor="end" font-weight="normal" fill="#111" >400</text>
<line x1="44.20" y1="292.40" x2="47.20" y2="292.40" stroke="#111" stroke-width="1.0" />
<text x="40.90" y="294.78" font-size="6.7" text-anchor="end" font-weight="normal" fill="#111" >300</text>
<line x1="44.20" y1="310.00" x2="47.20" y2="310.00" stroke="#111" stroke-width="1.0" />
<text x="40.90" y="312.38" font-size="6.7" text-anchor="end" font-weight="normal" fill="#111" >200</text>
<line x1="44.20" y1="327.40" x2="47.20" y2="327.40" stroke="#111" stroke-width="1.0" />
<text x="40.90" y="329.78" font-size="6.7" text-anchor="end" font-weight="normal" fill="#111" >100</text>
<line x1="44.20" y1="344.80" x2="47.20" y2="344.80" stroke="#111" stroke-width="1.0" />
<text x="40.90" y="347.18" font-size="6.7" text-anchor="end" font-weight="normal" fill="#111" >0</text>
<line x1="47.50" y1="345.50" x2="47.50" y2="348.00" stroke="#111" stroke-width="1.0" />
<text x="47.50" y="357.18" font-size="6.7" text-anchor="middle" font-weight="normal" fill="#111" >0</text>
<line x1="68.66" y1="345.50" x2="68.66" y2="348.00" stroke="#111" stroke-width="1.0" />
<text x="68.66" y="357.18" font-size="6.7" text-anchor="middle" font-weight="normal" fill="#111" >20</text>
<line x1="89.82" y1="345.50" x2="89.82" y2="348.00" stroke="#111" stroke-width="1.0" />
<text x="89.82" y="357.18" font-size="6.7" text-anchor="middle" font-weight="normal" fill="#111" >40</text>
<line x1="110.98" y1="345.50" x2="110.98" y2="348.00" stroke="#111" stroke-width="1.0" />
<text x="110.98" y="357.18" font-size="6.7" text-anchor="middle" font-weight="normal" fill="#111" >60</text>
<line x1="132.14" y1="345.50" x2="132.14" y2="348.00" stroke="#111" stroke-width="1.0" />
<text x="132.14" y="357.18" font-size="6.7" text-anchor="middle" font-weight="normal" fill="#111" >80</text>
<line x1="153.30" y1="345.50" x2="153.30" y2="348.00" stroke="#111" stroke-width="1.0" />
<text x="153.30" y="357.18" font-size="6.7" text-anchor="middle" font-weight="normal" fill="#111" >100</text>
<text x="102.10" y="368.19" font-size="7.0" text-anchor="middle" font-weight="normal" fill="#111" >Time (minutes)</text>
<text x="25.51" y="309.20" font-size="6.8" text-anchor="middle" font-weight="normal" fill="#111" transform="rotate(-90 25.51 309.20)" >ECAR (mpH/min/SRB)</text>
<line x1="76.60" y1="275.00" x2="76.60" y2="345.50" stroke="#888" stroke-width="0.7" />
<line x1="97.50" y1="269.50" x2="97.50" y2="345.50" stroke="#888" stroke-width="0.7" />
<line x1="118.20" y1="275.00" x2="118.20" y2="345.50" stroke="#888" stroke-width="0.7" />
<text x="76.60" y="273.15" font-size="5.5" text-anchor="middle" font-weight="normal" fill="#111" >Glucose</text>
<text x="97.60" y="266.95" font-size="5.5" text-anchor="middle" font-weight="normal" fill="#111" >Oligomycin</text>
<text x="118.20" y="273.15" font-size="5.5" text-anchor="middle" font-weight="normal" fill="#111" >2DG</text>
<line x1="48.20" y1="325.50" x2="48.20" y2="338.50" stroke="#2d4a70" stroke-width="0.9" />
<line x1="46.90" y1="325.50" x2="49.50" y2="325.50" stroke="#2d4a70" stroke-width="0.9" />
<line x1="46.90" y1="338.50" x2="49.50" y2="338.50" stroke="#2d4a70" stroke-width="0.9" />
<line x1="55.30" y1="333.80" x2="55.30" y2="339.80" stroke="#2d4a70" stroke-width="0.9" />
<line x1="54.00" y1="333.80" x2="56.60" y2="333.80" stroke="#2d4a70" stroke-width="0.9" />
<line x1="54.00" y1="339.80" x2="56.60" y2="339.80" stroke="#2d4a70" stroke-width="0.9" />
<line x1="62.40" y1="333.90" x2="62.40" y2="339.90" stroke="#2d4a70" stroke-width="0.9" />
<line x1="61.10" y1="333.90" x2="63.70" y2="333.90" stroke="#2d4a70" stroke-width="0.9" />
<line x1="61.10" y1="339.90" x2="63.70" y2="339.90" stroke="#2d4a70" stroke-width="0.9" />
<line x1="69.50" y1="334.40" x2="69.50" y2="339.40" stroke="#2d4a70" stroke-width="0.9" />
<line x1="68.20" y1="334.40" x2="70.80" y2="334.40" stroke="#2d4a70" stroke-width="0.9" />
<line x1="68.20" y1="339.40" x2="70.80" y2="339.40" stroke="#2d4a70" stroke-width="0.9" />
<line x1="76.50" y1="334.40" x2="76.50" y2="339.40" stroke="#2d4a70" stroke-width="0.9" />
<line x1="75.20" y1="334.40" x2="77.80" y2="334.40" stroke="#2d4a70" stroke-width="0.9" />
<line x1="75.20" y1="339.40" x2="77.80" y2="339.40" stroke="#2d4a70" stroke-width="0.9" />
<line x1="83.60" y1="291.10" x2="83.60" y2="305.10" stroke="#2d4a70" stroke-width="0.9" />
<line x1="82.30" y1="291.10" x2="84.90" y2="291.10" stroke="#2d4a70" stroke-width="0.9" />
<line x1="82.30" y1="305.10" x2="84.90" y2="305.10" stroke="#2d4a70" stroke-width="0.9" />
<line x1="90.50" y1="293.60" x2="90.50" y2="303.60" stroke="#2d4a70" stroke-width="0.9" />
<line x1="89.20" y1="293.60" x2="91.80" y2="293.60" stroke="#2d4a70" stroke-width="0.9" />
<line x1="89.20" y1="303.60" x2="91.80" y2="303.60" stroke="#2d4a70" stroke-width="0.9" />
<line x1="97.40" y1="291.90" x2="97.40" y2="301.90" stroke="#2d4a70" stroke-width="0.9" />
<line x1="96.10" y1="291.90" x2="98.70" y2="291.90" stroke="#2d4a70" stroke-width="0.9" />
<line x1="96.10" y1="301.90" x2="98.70" y2="301.90" stroke="#2d4a70" stroke-width="0.9" />
<line x1="104.50" y1="283.80" x2="104.50" y2="302.80" stroke="#2d4a70" stroke-width="0.9" />
<line x1="103.20" y1="283.80" x2="105.80" y2="283.80" stroke="#2d4a70" stroke-width="0.9" />
<line x1="103.20" y1="302.80" x2="105.80" y2="302.80" stroke="#2d4a70" stroke-width="0.9" />
<line x1="111.50" y1="284.00" x2="111.50" y2="300.00" stroke="#2d4a70" stroke-width="0.9" />
<line x1="110.20" y1="284.00" x2="112.80" y2="284.00" stroke="#2d4a70" stroke-width="0.9" />
<line x1="110.20" y1="300.00" x2="112.80" y2="300.00" stroke="#2d4a70" stroke-width="0.9" />
<line x1="118.50" y1="279.00" x2="118.50" y2="299.00" stroke="#2d4a70" stroke-width="0.9" />
<line x1="117.20" y1="279.00" x2="119.80" y2="279.00" stroke="#2d4a70" stroke-width="0.9" />
<line x1="117.20" y1="299.00" x2="119.80" y2="299.00" stroke="#2d4a70" stroke-width="0.9" />
<line x1="125.60" y1="327.40" x2="125.60" y2="331.40" stroke="#2d4a70" stroke-width="0.9" />
<line x1="124.30" y1="327.40" x2="126.90" y2="327.40" stroke="#2d4a70" stroke-width="0.9" />
<line x1="124.30" y1="331.40" x2="126.90" y2="331.40" stroke="#2d4a70" stroke-width="0.9" />
<line x1="132.60" y1="335.40" x2="132.60" y2="338.40" stroke="#2d4a70" stroke-width="0.9" />
<line x1="131.30" y1="335.40" x2="133.90" y2="335.40" stroke="#2d4a70" stroke-width="0.9" />
<line x1="131.30" y1="338.40" x2="133.90" y2="338.40" stroke="#2d4a70" stroke-width="0.9" />
<line x1="139.60" y1="335.40" x2="139.60" y2="338.40" stroke="#2d4a70" stroke-width="0.9" />
<line x1="138.30" y1="335.40" x2="140.90" y2="335.40" stroke="#2d4a70" stroke-width="0.9" />
<line x1="138.30" y1="338.40" x2="140.90" y2="338.40" stroke="#2d4a70" stroke-width="0.9" />
<polyline points="48.20,332.00 55.30,336.80 62.40,336.90 69.50,336.90 76.50,336.90 83.60,298.10 90.50,298.60 97.40,296.90 104.50,293.30 111.50,292.00 118.50,289.00 125.60,329.40 132.60,336.90 139.60,336.90" fill="none" stroke="#2d4a70" stroke-width="1.6" stroke-linejoin="round" />
<line x1="48.20" y1="338.00" x2="48.20" y2="342.00" stroke="#8c1f40" stroke-width="0.9" />
<line x1="46.90" y1="338.00" x2="49.50" y2="338.00" stroke="#8c1f40" stroke-width="0.9" />
<line x1="46.90" y1="342.00" x2="49.50" y2="342.00" stroke="#8c1f40" stroke-width="0.9" />
<line x1="55.30" y1="334.50" x2="55.30" y2="340.50" stroke="#8c1f40" stroke-width="0.9" />
<line x1="54.00" y1="334.50" x2="56.60" y2="334.50" stroke="#8c1f40" stroke-width="0.9" />
<line x1="54.00" y1="340.50" x2="56.60" y2="340.50" stroke="#8c1f40" stroke-width="0.9" />
<line x1="62.40" y1="333.30" x2="62.40" y2="339.30" stroke="#8c1f40" stroke-width="0.9" />
<line x1="61.10" y1="333.30" x2="63.70" y2="333.30" stroke="#8c1f40" stroke-width="0.9" />
<line x1="61.10" y1="339.30" x2="63.70" y2="339.30" stroke="#8c1f40" stroke-width="0.9" />
<line x1="69.50" y1="333.80" x2="69.50" y2="338.80" stroke="#8c1f40" stroke-width="0.9" />
<line x1="68.20" y1="333.80" x2="70.80" y2="333.80" stroke="#8c1f40" stroke-width="0.9" />
<line x1="68.20" y1="338.80" x2="70.80" y2="338.80" stroke="#8c1f40" stroke-width="0.9" />
<line x1="76.50" y1="333.80" x2="76.50" y2="338.80" stroke="#8c1f40" stroke-width="0.9" />
<line x1="75.20" y1="333.80" x2="77.80" y2="333.80" stroke="#8c1f40" stroke-width="0.9" />
<line x1="75.20" y1="338.80" x2="77.80" y2="338.80" stroke="#8c1f40" stroke-width="0.9" />
<line x1="83.60" y1="290.50" x2="83.60" y2="304.50" stroke="#8c1f40" stroke-width="0.9" />
<line x1="82.30" y1="290.50" x2="84.90" y2="290.50" stroke="#8c1f40" stroke-width="0.9" />
<line x1="82.30" y1="304.50" x2="84.90" y2="304.50" stroke="#8c1f40" stroke-width="0.9" />
<line x1="90.50" y1="293.00" x2="90.50" y2="303.00" stroke="#8c1f40" stroke-width="0.9" />
<line x1="89.20" y1="293.00" x2="91.80" y2="293.00" stroke="#8c1f40" stroke-width="0.9" />
<line x1="89.20" y1="303.00" x2="91.80" y2="303.00" stroke="#8c1f40" stroke-width="0.9" />
<line x1="97.40" y1="291.30" x2="97.40" y2="301.30" stroke="#8c1f40" stroke-width="0.9" />
<line x1="96.10" y1="291.30" x2="98.70" y2="291.30" stroke="#8c1f40" stroke-width="0.9" />
<line x1="96.10" y1="301.30" x2="98.70" y2="301.30" stroke="#8c1f40" stroke-width="0.9" />
<line x1="104.50" y1="281.80" x2="104.50" y2="300.80" stroke="#8c1f40" stroke-width="0.9" />
<line x1="103.20" y1="281.80" x2="105.80" y2="281.80" stroke="#8c1f40" stroke-width="0.9" />
<line x1="103.20" y1="300.80" x2="105.80" y2="300.80" stroke="#8c1f40" stroke-width="0.9" />
<line x1="111.50" y1="282.00" x2="111.50" y2="298.00" stroke="#8c1f40" stroke-width="0.9" />
<line x1="110.20" y1="282.00" x2="112.80" y2="282.00" stroke="#8c1f40" stroke-width="0.9" />
<line x1="110.20" y1="298.00" x2="112.80" y2="298.00" stroke="#8c1f40" stroke-width="0.9" />
<line x1="118.50" y1="277.00" x2="118.50" y2="297.00" stroke="#8c1f40" stroke-width="0.9" />
<line x1="117.20" y1="277.00" x2="119.80" y2="277.00" stroke="#8c1f40" stroke-width="0.9" />
<line x1="117.20" y1="297.00" x2="119.80" y2="297.00" stroke="#8c1f40" stroke-width="0.9" />
<line x1="125.60" y1="326.80" x2="125.60" y2="330.80" stroke="#8c1f40" stroke-width="0.9" />
<line x1="124.30" y1="326.80" x2="126.90" y2="326.80" stroke="#8c1f40" stroke-width="0.9" />
<line x1="124.30" y1="330.80" x2="126.90" y2="330.80" stroke="#8c1f40" stroke-width="0.9" />
<line x1="132.60" y1="334.80" x2="132.60" y2="337.80" stroke="#8c1f40" stroke-width="0.9" />
<line x1="131.30" y1="334.80" x2="133.90" y2="334.80" stroke="#8c1f40" stroke-width="0.9" />
<line x1="131.30" y1="337.80" x2="133.90" y2="337.80" stroke="#8c1f40" stroke-width="0.9" />
<line x1="139.60" y1="334.80" x2="139.60" y2="337.80" stroke="#8c1f40" stroke-width="0.9" />
<line x1="138.30" y1="334.80" x2="140.90" y2="334.80" stroke="#8c1f40" stroke-width="0.9" />
<line x1="138.30" y1="337.80" x2="140.90" y2="337.80" stroke="#8c1f40" stroke-width="0.9" />
<polyline points="48.20,340.00 55.30,337.50 62.40,336.30 69.50,336.30 76.50,336.30 83.60,297.50 90.50,298.00 97.40,296.30 104.50,291.30 111.50,290.00 118.50,287.00 125.60,328.80 132.60,336.30 139.60,336.30" fill="none" stroke="#8c1f40" stroke-width="1.9" stroke-linejoin="round" />
<rect x="47.00" y="338.80" width="2.40" height="2.40" fill="#8c1f40" />
<rect x="54.10" y="336.30" width="2.40" height="2.40" fill="#8c1f40" />
<rect x="61.20" y="335.10" width="2.40" height="2.40" fill="#8c1f40" />
<rect x="68.30" y="335.10" width="2.40" height="2.40" fill="#8c1f40" />
<rect x="75.30" y="335.10" width="2.40" height="2.40" fill="#8c1f40" />
<rect x="82.40" y="296.30" width="2.40" height="2.40" fill="#8c1f40" />
<rect x="89.30" y="296.80" width="2.40" height="2.40" fill="#8c1f40" />
<rect x="96.20" y="295.10" width="2.40" height="2.40" fill="#8c1f40" />
<rect x="103.30" y="290.10" width="2.40" height="2.40" fill="#8c1f40" />
<rect x="110.30" y="288.80" width="2.40" height="2.40" fill="#8c1f40" />
<rect x="117.30" y="285.80" width="2.40" height="2.40" fill="#8c1f40" />
<rect x="124.40" y="327.60" width="2.40" height="2.40" fill="#8c1f40" />
<rect x="131.40" y="335.10" width="2.40" height="2.40" fill="#8c1f40" />
<rect x="138.40" y="335.10" width="2.40" height="2.40" fill="#8c1f40" />
<line x1="48.20" y1="339.00" x2="48.20" y2="342.00" stroke="#111" stroke-width="0.9" />
<line x1="46.90" y1="339.00" x2="49.50" y2="339.00" stroke="#111" stroke-width="0.9" />
<line x1="46.90" y1="342.00" x2="49.50" y2="342.00" stroke="#111" stroke-width="0.9" />
<line x1="55.30" y1="338.10" x2="55.30" y2="341.10" stroke="#111" stroke-width="0.9" />
<line x1="54.00" y1="338.10" x2="56.60" y2="338.10" stroke="#111" stroke-width="0.9" />
<line x1="54.00" y1="341.10" x2="56.60" y2="341.10" stroke="#111" stroke-width="0.9" />
<line x1="62.40" y1="337.80" x2="62.40" y2="340.80" stroke="#111" stroke-width="0.9" />
<line x1="61.10" y1="337.80" x2="63.70" y2="337.80" stroke="#111" stroke-width="0.9" />
<line x1="61.10" y1="340.80" x2="63.70" y2="340.80" stroke="#111" stroke-width="0.9" />
<line x1="69.50" y1="337.50" x2="69.50" y2="340.50" stroke="#111" stroke-width="0.9" />
<line x1="68.20" y1="337.50" x2="70.80" y2="337.50" stroke="#111" stroke-width="0.9" />
<line x1="68.20" y1="340.50" x2="70.80" y2="340.50" stroke="#111" stroke-width="0.9" />
<line x1="76.50" y1="337.50" x2="76.50" y2="340.50" stroke="#111" stroke-width="0.9" />
<line x1="75.20" y1="337.50" x2="77.80" y2="337.50" stroke="#111" stroke-width="0.9" />
<line x1="75.20" y1="340.50" x2="77.80" y2="340.50" stroke="#111" stroke-width="0.9" />
<line x1="83.60" y1="326.00" x2="83.60" y2="331.00" stroke="#111" stroke-width="0.9" />
<line x1="82.30" y1="326.00" x2="84.90" y2="326.00" stroke="#111" stroke-width="0.9" />
<line x1="82.30" y1="331.00" x2="84.90" y2="331.00" stroke="#111" stroke-width="0.9" />
<line x1="90.50" y1="323.30" x2="90.50" y2="328.30" stroke="#111" stroke-width="0.9" />
<line x1="89.20" y1="323.30" x2="91.80" y2="323.30" stroke="#111" stroke-width="0.9" />
<line x1="89.20" y1="328.30" x2="91.80" y2="328.30" stroke="#111" stroke-width="0.9" />
<line x1="97.40" y1="322.00" x2="97.40" y2="327.00" stroke="#111" stroke-width="0.9" />
<line x1="96.10" y1="322.00" x2="98.70" y2="322.00" stroke="#111" stroke-width="0.9" />
<line x1="96.10" y1="327.00" x2="98.70" y2="327.00" stroke="#111" stroke-width="0.9" />
<line x1="104.50" y1="309.50" x2="104.50" y2="316.50" stroke="#111" stroke-width="0.9" />
<line x1="103.20" y1="309.50" x2="105.80" y2="309.50" stroke="#111" stroke-width="0.9" />
<line x1="103.20" y1="316.50" x2="105.80" y2="316.50" stroke="#111" stroke-width="0.9" />
<line x1="111.50" y1="309.50" x2="111.50" y2="316.50" stroke="#111" stroke-width="0.9" />
<line x1="110.20" y1="309.50" x2="112.80" y2="309.50" stroke="#111" stroke-width="0.9" />
<line x1="110.20" y1="316.50" x2="112.80" y2="316.50" stroke="#111" stroke-width="0.9" />
<line x1="118.50" y1="309.50" x2="118.50" y2="316.50" stroke="#111" stroke-width="0.9" />
<line x1="117.20" y1="309.50" x2="119.80" y2="309.50" stroke="#111" stroke-width="0.9" />
<line x1="117.20" y1="316.50" x2="119.80" y2="316.50" stroke="#111" stroke-width="0.9" />
<line x1="125.60" y1="333.50" x2="125.60" y2="336.50" stroke="#111" stroke-width="0.9" />
<line x1="124.30" y1="333.50" x2="126.90" y2="333.50" stroke="#111" stroke-width="0.9" />
<line x1="124.30" y1="336.50" x2="126.90" y2="336.50" stroke="#111" stroke-width="0.9" />
<line x1="132.60" y1="341.00" x2="132.60" y2="343.00" stroke="#111" stroke-width="0.9" />
<line x1="131.30" y1="341.00" x2="133.90" y2="341.00" stroke="#111" stroke-width="0.9" />
<line x1="131.30" y1="343.00" x2="133.90" y2="343.00" stroke="#111" stroke-width="0.9" />
<line x1="139.60" y1="341.00" x2="139.60" y2="343.00" stroke="#111" stroke-width="0.9" />
<line x1="138.30" y1="341.00" x2="140.90" y2="341.00" stroke="#111" stroke-width="0.9" />
<line x1="138.30" y1="343.00" x2="140.90" y2="343.00" stroke="#111" stroke-width="0.9" />
<polyline points="48.20,340.50 55.30,339.60 62.40,339.30 69.50,339.00 76.50,339.00 83.60,328.50 90.50,325.80 97.40,324.50 104.50,313.00 111.50,313.00 118.50,313.00 125.60,335.00 132.60,342.00 139.60,342.00" fill="none" stroke="#111" stroke-width="1.6" stroke-linejoin="round" />
<circle cx="48.2" cy="340.5" r="1.3" fill="#111"/>
<circle cx="55.3" cy="339.6" r="1.3" fill="#111"/>
<circle cx="62.4" cy="339.3" r="1.3" fill="#111"/>
<circle cx="69.5" cy="339.0" r="1.3" fill="#111"/>
<circle cx="76.5" cy="339.0" r="1.3" fill="#111"/>
<circle cx="83.6" cy="328.5" r="1.3" fill="#111"/>
<circle cx="90.5" cy="325.8" r="1.3" fill="#111"/>
<circle cx="97.4" cy="324.5" r="1.3" fill="#111"/>
<circle cx="104.5" cy="313.0" r="1.3" fill="#111"/>
<circle cx="111.5" cy="313.0" r="1.3" fill="#111"/>
<circle cx="118.5" cy="313.0" r="1.3" fill="#111"/>
<circle cx="125.6" cy="335.0" r="1.3" fill="#111"/>
<circle cx="132.6" cy="342.0" r="1.3" fill="#111"/>
<circle cx="139.6" cy="342.0" r="1.3" fill="#111"/>
<line x1="126.00" y1="285.30" x2="133.70" y2="285.30" stroke="#111" stroke-width="1.3" />
<circle cx="129.8" cy="285.3" r="1.4" fill="#111"/>
<text x="136.70" y="287.27" font-size="5.55" text-anchor="start" font-weight="normal" fill="#111" >HS5</text>
<line x1="126.00" y1="293.20" x2="133.70" y2="293.20" stroke="#8c1f40" stroke-width="1.3" />
<circle cx="129.8" cy="293.2" r="1.4" fill="#8c1f40"/>
<text x="136.70" y="295.17" font-size="5.55" text-anchor="start" font-weight="normal" fill="#111" >HS5+NALM6 LEV</text>
<line x1="126.00" y1="301.00" x2="133.70" y2="301.00" stroke="#2d4a70" stroke-width="1.3" />
<circle cx="129.8" cy="301.0" r="1.4" fill="#2d4a70"/>
<text x="136.70" y="302.97" font-size="5.55" text-anchor="start" font-weight="normal" fill="#111" >HS5+SD1 LEV</text>
<line x1="219.40" y1="271.70" x2="219.40" y2="345.40" stroke="#111" stroke-width="1.0" />
<line x1="219.40" y1="345.40" x2="324.20" y2="345.40" stroke="#111" stroke-width="1.0" />
<line x1="216.10" y1="274.70" x2="219.40" y2="274.70" stroke="#111" stroke-width="1.0" />
<text x="212.00" y="277.08" font-size="6.7" text-anchor="end" font-weight="normal" fill="#111" >400</text>
<line x1="216.10" y1="292.60" x2="219.40" y2="292.60" stroke="#111" stroke-width="1.0" />
<text x="212.00" y="294.98" font-size="6.7" text-anchor="end" font-weight="normal" fill="#111" >300</text>
<line x1="216.10" y1="310.10" x2="219.40" y2="310.10" stroke="#111" stroke-width="1.0" />
<text x="212.00" y="312.48" font-size="6.7" text-anchor="end" font-weight="normal" fill="#111" >200</text>
<line x1="216.10" y1="328.00" x2="219.40" y2="328.00" stroke="#111" stroke-width="1.0" />
<text x="212.00" y="330.38" font-size="6.7" text-anchor="end" font-weight="normal" fill="#111" >100</text>
<line x1="216.10" y1="345.30" x2="219.40" y2="345.30" stroke="#111" stroke-width="1.0" />
<text x="212.00" y="347.68" font-size="6.7" text-anchor="end" font-weight="normal" fill="#111" >0</text>
<line x1="226.80" y1="325.00" x2="226.80" y2="328.00" stroke="#111" stroke-width="0.9" />
<line x1="225.30" y1="325.00" x2="228.30" y2="325.00" stroke="#111" stroke-width="0.9" />
<rect x="223.60" y="328.00" width="6.40" height="17.40" fill="#111" />
<line x1="236.55" y1="298.60" x2="236.55" y2="304.80" stroke="#111" stroke-width="0.9" />
<line x1="235.05" y1="298.60" x2="238.05" y2="298.60" stroke="#111" stroke-width="0.9" />
<rect x="233.30" y="304.80" width="6.50" height="40.60" fill="#b4b4b4" />
<text x="236.55" y="297.10" font-size="6.0" text-anchor="middle" font-weight="bold" fill="#111">**</text>
<line x1="246.25" y1="299.00" x2="246.25" y2="304.80" stroke="#111" stroke-width="0.9" />
<line x1="244.75" y1="299.00" x2="247.75" y2="299.00" stroke="#111" stroke-width="0.9" />
<rect x="242.80" y="304.80" width="6.90" height="40.60" fill="#6a6a6a" />
<text x="246.25" y="297.50" font-size="6.0" text-anchor="middle" font-weight="bold" fill="#111">**</text>
<line x1="262.25" y1="314.80" x2="262.25" y2="318.30" stroke="#111" stroke-width="0.9" />
<line x1="260.75" y1="314.80" x2="263.75" y2="314.80" stroke="#111" stroke-width="0.9" />
<rect x="259.00" y="318.30" width="6.50" height="27.10" fill="#111" />
<line x1="271.95" y1="287.50" x2="271.95" y2="295.60" stroke="#111" stroke-width="0.9" />
<line x1="270.45" y1="287.50" x2="273.45" y2="287.50" stroke="#111" stroke-width="0.9" />
<rect x="268.70" y="295.60" width="6.50" height="49.80" fill="#b4b4b4" />
<text x="271.95" y="286.00" font-size="6.0" text-anchor="middle" font-weight="bold" fill="#111">*</text>
<line x1="281.45" y1="292.00" x2="281.45" y2="298.30" stroke="#111" stroke-width="0.9" />
<line x1="279.95" y1="292.00" x2="282.95" y2="292.00" stroke="#111" stroke-width="0.9" />
<rect x="278.00" y="298.30" width="6.90" height="47.10" fill="#6a6a6a" />
<text x="281.45" y="290.50" font-size="6.0" text-anchor="middle" font-weight="bold" fill="#111">*</text>
<line x1="297.60" y1="334.20" x2="297.60" y2="336.30" stroke="#111" stroke-width="0.9" />
<line x1="296.10" y1="334.20" x2="299.10" y2="334.20" stroke="#111" stroke-width="0.9" />
<rect x="294.20" y="336.30" width="6.80" height="9.10" fill="#111" />
<line x1="307.40" y1="333.50" x2="307.40" y2="336.50" stroke="#111" stroke-width="0.9" />
<line x1="305.90" y1="333.50" x2="308.90" y2="333.50" stroke="#111" stroke-width="0.9" />
<rect x="304.20" y="336.50" width="6.40" height="8.90" fill="#b4b4b4" />
<line x1="317.00" y1="336.80" x2="317.00" y2="338.60" stroke="#111" stroke-width="0.9" />
<line x1="315.50" y1="336.80" x2="318.50" y2="336.80" stroke="#111" stroke-width="0.9" />
<rect x="313.80" y="338.60" width="6.40" height="6.80" fill="#6a6a6a" />
<line x1="236.60" y1="345.40" x2="236.60" y2="347.90" stroke="#111" stroke-width="0.8" />
<line x1="271.90" y1="345.40" x2="271.90" y2="347.90" stroke="#111" stroke-width="0.8" />
<line x1="307.30" y1="345.40" x2="307.30" y2="347.90" stroke="#111" stroke-width="0.8" />
<text x="198.11" y="305.20" font-size="6.5" text-anchor="middle" font-weight="normal" fill="#111" transform="rotate(-90 198.11 305.20)" >ECAR (mpH/min/SRB)</text>
<text x="237.00" y="357.91" font-size="6.5" text-anchor="middle" font-weight="normal" fill="#111" >Glycolysis</text>
<text x="271.60" y="357.91" font-size="6.5" text-anchor="middle" font-weight="normal" fill="#111" >Glycolytic</text>
<text x="271.60" y="365.31" font-size="6.5" text-anchor="middle" font-weight="normal" fill="#111" >capacity</text>
<text x="306.80" y="357.91" font-size="6.5" text-anchor="middle" font-weight="normal" fill="#111" >Glycolytic</text>
<text x="306.80" y="365.31" font-size="6.5" text-anchor="middle" font-weight="normal" fill="#111" >reserve</text>
<rect x="287.60" y="267.60" width="7.20" height="2.80" fill="#111" />
<text x="298.10" y="270.97" font-size="5.55" text-anchor="start" font-weight="normal" fill="#111" >HS5</text>
<rect x="287.60" y="273.50" width="7.20" height="2.80" fill="#b4b4b4" />
<text x="298.10" y="276.87" font-size="5.55" text-anchor="start" font-weight="normal" fill="#111" >HS5+NALM6 LEV</text>
<rect x="287.60" y="279.50" width="7.20" height="2.80" fill="#6a6a6a" />
<text x="298.10" y="282.87" font-size="5.55" text-anchor="start" font-weight="normal" fill="#111" >HS5+SD1 LEV</text>
<line x1="399.50" y1="138.70" x2="399.50" y2="213.70" stroke="#111" stroke-width="1.0" />
<line x1="399.50" y1="213.70" x2="444.00" y2="213.70" stroke="#111" stroke-width="1.0" />
<line x1="396.50" y1="140.70" x2="399.50" y2="140.70" stroke="#111" stroke-width="1.0" />
<text x="392.60" y="143.08" font-size="6.7" text-anchor="end" font-weight="normal" fill="#111" >0.3</text>
<line x1="396.50" y1="165.20" x2="399.50" y2="165.20" stroke="#111" stroke-width="1.0" />
<text x="392.60" y="167.58" font-size="6.7" text-anchor="end" font-weight="normal" fill="#111" >0.2</text>
<line x1="396.50" y1="189.50" x2="399.50" y2="189.50" stroke="#111" stroke-width="1.0" />
<text x="392.60" y="191.88" font-size="6.7" text-anchor="end" font-weight="normal" fill="#111" >0.1</text>
<line x1="396.50" y1="213.70" x2="399.50" y2="213.70" stroke="#111" stroke-width="1.0" />
<text x="392.60" y="216.08" font-size="6.7" text-anchor="end" font-weight="normal" fill="#111" >0.0</text>
<line x1="407.05" y1="199.90" x2="407.05" y2="202.20" stroke="#111" stroke-width="0.9" />
<line x1="405.55" y1="199.90" x2="408.55" y2="199.90" stroke="#111" stroke-width="0.9" />
<rect x="402.10" y="202.20" width="9.90" height="11.50" fill="#111" />
<line x1="407.05" y1="213.70" x2="407.05" y2="216.20" stroke="#111" stroke-width="0.8" />
<line x1="422.50" y1="190.00" x2="422.50" y2="193.00" stroke="#111" stroke-width="0.9" />
<line x1="421.00" y1="190.00" x2="424.00" y2="190.00" stroke="#111" stroke-width="0.9" />
<rect x="417.60" y="193.00" width="9.80" height="20.70" fill="#b4b4b4" />
<line x1="422.50" y1="213.70" x2="422.50" y2="216.20" stroke="#111" stroke-width="0.8" />
<text x="422.50" y="188.00" font-size="6.0" text-anchor="middle" font-weight="bold" fill="#111">*</text>
<line x1="437.65" y1="156.10" x2="437.65" y2="169.30" stroke="#111" stroke-width="0.9" />
<line x1="436.15" y1="156.10" x2="439.15" y2="156.10" stroke="#111" stroke-width="0.9" />
<rect x="432.40" y="169.30" width="10.50" height="44.40" fill="#6a6a6a" />
<line x1="437.65" y1="213.70" x2="437.65" y2="216.20" stroke="#111" stroke-width="0.8" />
<text x="437.65" y="154.10" font-size="6.0" text-anchor="middle" font-weight="bold" fill="#111">*</text>
<text x="378.98" y="178.00" font-size="6.7" text-anchor="middle" font-weight="normal" fill="#111" transform="rotate(-90 378.98 178.00)" >Lactate conc (nmoles/cell)</text>
<rect x="452.00" y="139.30" width="6.60" height="3.00" fill="#111" />
<text x="461.30" y="142.77" font-size="5.55" text-anchor="start" font-weight="normal" fill="#111" >HS5</text>
<rect x="452.00" y="145.70" width="6.60" height="3.00" fill="#b4b4b4" />
<text x="461.30" y="149.17" font-size="5.55" text-anchor="start" font-weight="normal" fill="#111" >HS5+NALM6 LEV</text>
<rect x="452.00" y="152.20" width="6.60" height="3.00" fill="#6a6a6a" />
<text x="461.30" y="155.67" font-size="5.55" text-anchor="start" font-weight="normal" fill="#111" >HS5+SD1 LEV</text>
<line x1="398.50" y1="280.60" x2="398.50" y2="345.30" stroke="#111" stroke-width="1.0" />
<line x1="398.50" y1="345.30" x2="475.50" y2="345.30" stroke="#111" stroke-width="1.0" />
<line x1="395.50" y1="283.30" x2="398.50" y2="283.30" stroke="#111" stroke-width="1.0" />
<text x="391.90" y="285.68" font-size="6.7" text-anchor="end" font-weight="normal" fill="#111" >150</text>
<line x1="395.50" y1="304.20" x2="398.50" y2="304.20" stroke="#111" stroke-width="1.0" />
<text x="391.90" y="306.58" font-size="6.7" text-anchor="end" font-weight="normal" fill="#111" >100</text>
<line x1="395.50" y1="324.90" x2="398.50" y2="324.90" stroke="#111" stroke-width="1.0" />
<text x="391.90" y="327.28" font-size="6.7" text-anchor="end" font-weight="normal" fill="#111" >50</text>
<line x1="395.50" y1="345.30" x2="398.50" y2="345.30" stroke="#111" stroke-width="1.0" />
<text x="391.90" y="347.68" font-size="6.7" text-anchor="end" font-weight="normal" fill="#111" >0</text>
<line x1="398.50" y1="345.30" x2="398.50" y2="347.90" stroke="#111" stroke-width="1.0" />
<text x="398.50" y="357.68" font-size="6.7" text-anchor="middle" font-weight="normal" fill="#111" >0</text>
<line x1="418.00" y1="345.30" x2="418.00" y2="347.90" stroke="#111" stroke-width="1.0" />
<text x="418.00" y="357.68" font-size="6.7" text-anchor="middle" font-weight="normal" fill="#111" >50</text>
<line x1="437.00" y1="345.30" x2="437.00" y2="347.90" stroke="#111" stroke-width="1.0" />
<text x="437.00" y="357.68" font-size="6.7" text-anchor="middle" font-weight="normal" fill="#111" >100</text>
<line x1="456.50" y1="345.30" x2="456.50" y2="347.90" stroke="#111" stroke-width="1.0" />
<text x="456.50" y="357.68" font-size="6.7" text-anchor="middle" font-weight="normal" fill="#111" >150</text>
<line x1="475.50" y1="345.30" x2="475.50" y2="347.90" stroke="#111" stroke-width="1.0" />
<text x="475.50" y="357.68" font-size="6.7" text-anchor="middle" font-weight="normal" fill="#111" >200</text>
<text x="436.50" y="369.11" font-size="6.8" text-anchor="middle" font-weight="normal" fill="#111" >ECAR (mpH/min/SRB)</text>
<text x="374.67" y="315.50" font-size="6.4" text-anchor="middle" font-weight="normal" fill="#111" transform="rotate(-90 374.67 315.50)" >OCR (pmolO<tspan font-size="4.4" dy="1.8">2</tspan><tspan dy="-1.8">/min/SRB)</tspan></text>
<line x1="436.80" y1="283.90" x2="436.80" y2="345.30" stroke="#606060" stroke-width="1.1" />
<line x1="400.00" y1="315.00" x2="475.00" y2="315.00" stroke="#444" stroke-width="1.3" stroke-dasharray="1.5 0.5"/>
<text x="400.00" y="286.72" font-size="5.4" text-anchor="start" font-weight="normal" fill="#555" >AEROBIC</text>
<text x="441.40" y="342.19" font-size="5.6" text-anchor="start" font-weight="normal" fill="#d3c288" style="stroke:#e0d4a8">GLYCOLYTIC</text>
<line x1="416.70" y1="315.00" x2="440.80" y2="329.60" stroke="#efcfa8" stroke-width="1.1" />
<line x1="420.20" y1="291.80" x2="420.20" y2="309.50" stroke="#111" stroke-width="1.3" />
<line x1="418.70" y1="291.80" x2="421.70" y2="291.80" stroke="#111" stroke-width="1.2" />
<line x1="418.70" y1="309.50" x2="421.70" y2="309.50" stroke="#111" stroke-width="1.2" />
<line x1="417.30" y1="300.60" x2="423.60" y2="300.60" stroke="#111" stroke-width="1.3" />
<line x1="417.30" y1="299.10" x2="417.30" y2="302.10" stroke="#111" stroke-width="1.2" />
<line x1="423.60" y1="299.10" x2="423.60" y2="302.10" stroke="#111" stroke-width="1.2" />
<circle cx="420.2" cy="300.6" r="1.5" fill="#111"/>
<line x1="442.90" y1="314.00" x2="442.90" y2="327.90" stroke="#8c1f40" stroke-width="1.3" />
<line x1="441.40" y1="314.00" x2="444.40" y2="314.00" stroke="#8c1f40" stroke-width="1.2" />
<line x1="441.40" y1="327.90" x2="444.40" y2="327.90" stroke="#8c1f40" stroke-width="1.2" />
<line x1="435.40" y1="320.80" x2="450.80" y2="320.80" stroke="#8c1f40" stroke-width="1.3" />
<line x1="435.40" y1="319.30" x2="435.40" y2="322.30" stroke="#8c1f40" stroke-width="1.2" />
<line x1="450.80" y1="319.30" x2="450.80" y2="322.30" stroke="#8c1f40" stroke-width="1.2" />
<rect x="441.10" y="319.00" width="3.60" height="3.60" fill="#8c1f40" />
<line x1="458.50" y1="316.40" x2="458.50" y2="326.70" stroke="#2d4a70" stroke-width="1.3" />
<line x1="457.00" y1="316.40" x2="460.00" y2="316.40" stroke="#2d4a70" stroke-width="1.2" />
<line x1="457.00" y1="326.70" x2="460.00" y2="326.70" stroke="#2d4a70" stroke-width="1.2" />
<line x1="454.20" y1="321.40" x2="463.60" y2="321.40" stroke="#2d4a70" stroke-width="1.3" />
<line x1="454.20" y1="319.90" x2="454.20" y2="322.90" stroke="#2d4a70" stroke-width="1.2" />
<line x1="463.60" y1="319.90" x2="463.60" y2="322.90" stroke="#2d4a70" stroke-width="1.2" />
<polygon points="456.7,320.0 460.3,320.0 458.5,323.0" fill="#2d4a70"/>
<line x1="460.10" y1="282.90" x2="467.60" y2="282.90" stroke="#111" stroke-width="1.3" />
<rect x="462.30" y="281.50" width="3.00" height="2.80" fill="#111" />
<text x="469.00" y="284.87" font-size="5.55" text-anchor="start" font-weight="normal" fill="#111" >HS5</text>
<line x1="460.10" y1="289.20" x2="467.60" y2="289.20" stroke="#8c1f40" stroke-width="1.3" />
<rect x="462.30" y="287.80" width="3.00" height="2.80" fill="#8c1f40" />
<text x="469.00" y="291.17" font-size="5.55" text-anchor="start" font-weight="normal" fill="#111" >HS5+NALM6 LEV</text>
<line x1="460.10" y1="295.30" x2="467.60" y2="295.30" stroke="#2d4a70" stroke-width="1.3" />
<rect x="462.30" y="293.90" width="3.00" height="2.80" fill="#2d4a70" />
<text x="469.00" y="297.27" font-size="5.55" text-anchor="start" font-weight="normal" fill="#111" >HS5+SD1 LEV</text>
<rect x="0.5" y="0.5" width="519" height="378.3" fill="none" stroke="#000" stroke-width="1"/>
<line x1="0" y1="379.3" x2="520" y2="379.3" stroke="#000" stroke-width="1.4"/>
</svg>
</body></html>
